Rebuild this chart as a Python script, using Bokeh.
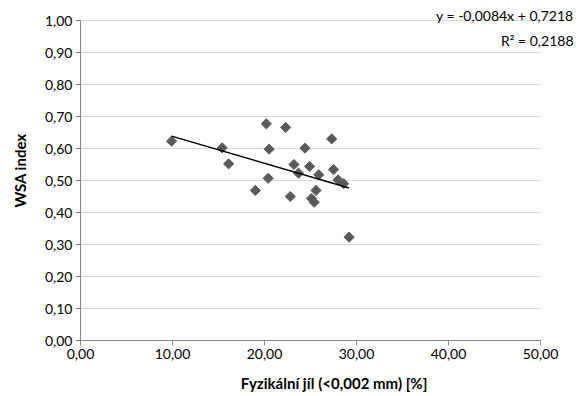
import numpy as np
from bokeh.plotting import figure
from bokeh.models import FixedTicker, Label, ColumnDataSource
from bokeh.embed import file_html
from bokeh.resources import INLINE

# data
clay = [9.9, 20.2, 22.3, 27.3, 15.4, 20.5, 24.4, 16.1, 23.2, 24.9, 23.7,
        25.9, 27.5, 20.4, 28.0, 28.6, 19.0, 25.6, 22.8, 25.1, 25.4, 29.2]
wsa = [0.623, 0.677, 0.666, 0.630, 0.602, 0.598, 0.601, 0.552, 0.550, 0.544, 0.523,
       0.518, 0.534, 0.507, 0.502, 0.490, 0.469, 0.469, 0.450, 0.444, 0.432, 0.323]
slope = -0.0084
intercept = 0.7218
eq_text = "y = -0,0084x + 0,7218"
r2_text = "R² = 0,2188"

x_ticks = [0, 10, 20, 30, 40, 50]
x_tick_labels = ["0,00", "10,00", "20,00", "30,00", "40,00", "50,00"]
y_ticks = [0.0, 0.1, 0.2, 0.3, 0.4, 0.5, 0.6, 0.7, 0.8, 0.9, 1.0]
y_tick_labels = ["0,00", "0,10", "0,20", "0,30", "0,40", "0,50", "0,60", "0,70", "0,80", "0,90", "1,00"]

FONT = "Lato"
X_MAX, Y_MAX = 50, 1.0
PX_X = 460 / X_MAX   # pixels per x unit
PX_Y = 320 / Y_MAX   # pixels per y unit

p = figure(width=587, height=396,
           x_range=(0, X_MAX + 47 / PX_X), y_range=(0, Y_MAX + 20 / PX_Y),
           output_backend="svg", toolbar_location=None,
           min_border_left=80, min_border_right=0, min_border_top=0, min_border_bottom=56)
p.outline_line_color = None
p.background_fill_color = "white"
p.xgrid.grid_line_color = None
p.ygrid.grid_line_color = None

# horizontal gridlines limited to the plot area
p.segment(x0=[0] * len(y_ticks), x1=[X_MAX] * len(y_ticks), y0=y_ticks, y1=y_ticks,
          line_color="#d9d9d9", line_width=1)

src = ColumnDataSource(dict(x=clay, y=wsa))
p.scatter("x", "y", source=src, marker="square", angle=np.pi / 4, size=7.2,
          fill_color="#5a5a5a", line_color="#5a5a5a")

xmin, xmax = min(clay), max(clay)
p.line([xmin, xmax], [slope * xmin + intercept, slope * xmax + intercept],
       line_color="black", line_width=1.5)

for ax, ticks, labels, bnds in ((p.xaxis[0], x_ticks, x_tick_labels, (0, X_MAX)),
                                (p.yaxis[0], y_ticks, y_tick_labels, (0, Y_MAX))):
    ax.ticker = FixedTicker(ticks=ticks)
    ax.bounds = bnds
    ax.major_label_overrides = {t: l for t, l in zip(ticks, labels)}
    ax.minor_tick_line_color = None
    ax.axis_line_color = "#868686"
    ax.major_tick_line_color = "#868686"
    ax.major_tick_out = 5
    ax.major_tick_in = 0
    ax.major_label_text_font = FONT
    ax.major_label_text_font_size = "14px"
    ax.major_label_text_color = "black"
    ax.axis_label_text_font = FONT
    ax.axis_label_text_font_size = "15px"
    ax.axis_label_text_font_style = "bold"
    ax.axis_label_text_color = "black"

p.xaxis.axis_label = "Fyzikální jíl (<0,002 mm) [%]"
p.yaxis.axis_label = "WSA index"
p.xaxis.major_label_standoff = 3
p.yaxis.major_label_standoff = 3
p.xaxis.axis_label_standoff = 12
p.yaxis.axis_label_standoff = 13

p.add_layout(Label(x=X_MAX + 33 / PX_X, y=Y_MAX + 5 / PX_Y, text=eq_text, text_align="right",
                   text_baseline="middle", text_font=FONT, text_font_size="14px", text_color="black"))
p.add_layout(Label(x=X_MAX + 33 / PX_X, y=Y_MAX - 20 / PX_Y, text=r2_text, text_align="right",
                   text_baseline="middle", text_font=FONT, text_font_size="14px", text_color="black"))

open("out.html", "w").write(file_html(p, INLINE))
